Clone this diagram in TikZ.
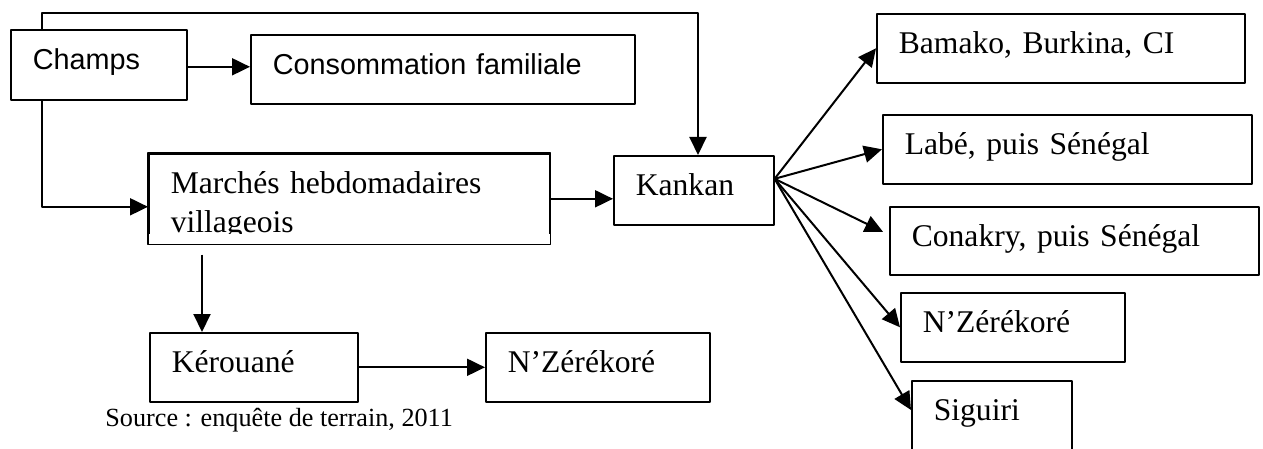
\documentclass[tikz,border=0pt]{standalone}
\usepackage{fontspec}
\setmainfont{Liberation Serif}
\newfontfamily\arialfont{Liberation Sans}
\usetikzlibrary{arrows.meta}
\tikzset{
  every picture/.style={
    line join=round,
    >={Triangle[length=9pt,width=8.5pt]},
  },
  box/.style={draw, line width=0.8pt, anchor=north west,
    inner xsep=11pt, inner ysep=0pt, align=left, text width=#1,
    text height=20pt, text depth=14.5pt,
    font=\fontsize{15.8}{19.5}\selectfont},
  sansbox/.style={box=#1, font=\arialfont\fontsize{14.4}{17}\selectfont},
  flow/.style={->, line width=1pt},
}

\begin{document}
\begin{tikzpicture}[x=0.5pt, y=-0.5pt]
    \useasboundingbox (0,0) rectangle (1263,449);

    % Left part
    \node[sansbox=66pt, text depth=15pt] (champs) at (10,29) {Champs};
    \node[sansbox=170pt] (conso) at (250,34) {Consommation familiale};
    \begin{scope}
        \clip (140,140) rectangle (560,233);
        \node[box=178.5pt, text depth=25pt] (marches) at (148,153) {Marchés hebdomadaires\\villageois};
    \end{scope}
    \draw[line width=0.8pt] (marches.north west) rectangle (marches.south east);
    \node[box=58pt] (kankan) at (613,155) {Kankan};
    \node[box=82pt] (kerouane) at (149,332) {Kérouané};
    \node[box=90pt] (nzerekore) at (485,332) {N’Zérékoré};

    % Destinations from Kankan
    \node[box=162pt] (bamako) at (876,13) {Bamako, Burkina, CI};
    \node[box=162.5pt] (labe) at (882,114) {Labé, puis Sénégal};
    \node[box=162.5pt, text depth=14pt] (conakry) at (889,206) {Conakry, puis Sénégal};
    \node[box=90pt] (nzerekore2) at (900,292) {N’Zérékoré};
    \node[box=58pt, text depth=30pt] (siguiri) at (911,380) {Siguiri};

    % Source
    \node[anchor=base west, inner sep=0pt, font=\fontsize{13.1}{15}\selectfont] (source) at (105,426) {Source : enquête de terrain, 2011};

    % Flows
    \draw[flow] ([yshift=-1pt]champs.east) -- ([yshift=-1pt]champs.east -| conso.west);
    \coordinate (turn) at (698,13);
    \draw[flow] ([xshift=16pt]champs.north west) |- (turn) -- (turn |- kankan.north);
    \draw[flow] ([xshift=16pt]champs.south west) |- ([yshift=-4pt]marches.west);
    \draw[flow] (marches.east) -- (marches.east -| kankan.west);
    \coordinate (drop) at ([xshift=27pt,yshift=-5pt]marches.south west);
    \draw[flow] (drop) -- (drop |- kerouane.north);
    \draw[flow] (kerouane.east) -- (nzerekore.west);

    % Fan out of Kankan
    \coordinate (fan) at ([yshift=5.75pt]kankan.east);
    \coordinate (conakry-in) at ([shift={(-3pt,4.5pt)}]conakry.west);
    \coordinate (siguiri-in) at ([yshift=-15pt]siguiri.north west);
    \foreach \dest in {bamako.west, labe.west, conakry-in, nzerekore2.west, siguiri-in}
        \draw[flow] (fan) -- (\dest);
\end{tikzpicture}
\end{document}
